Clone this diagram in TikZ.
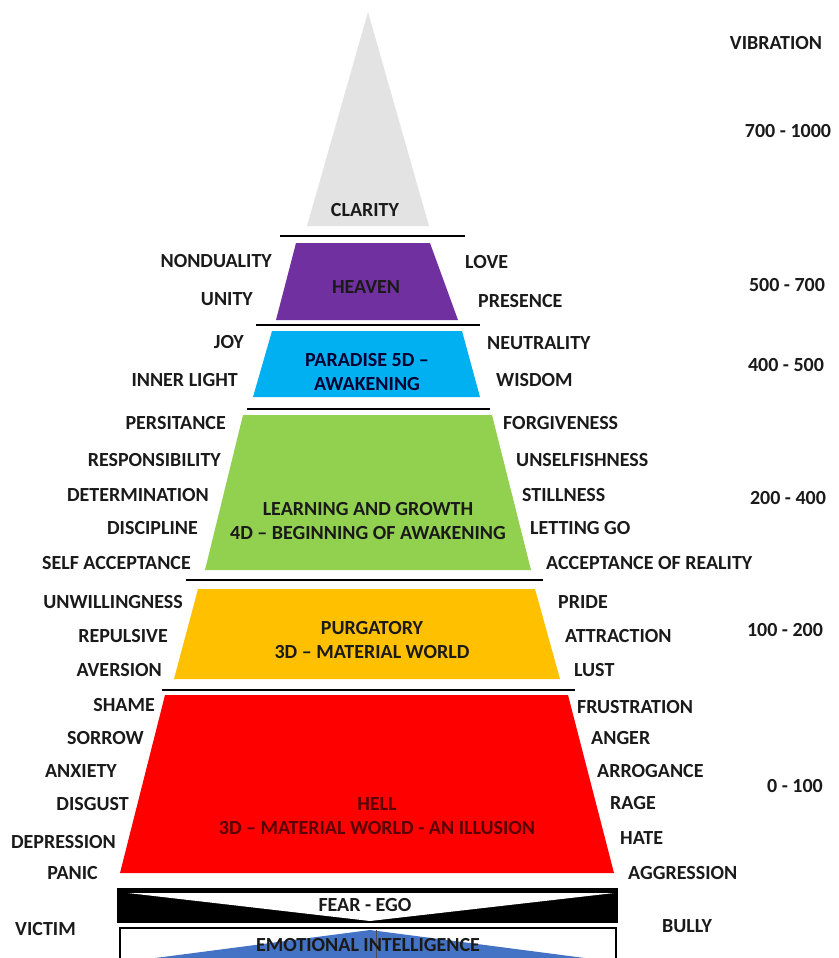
\documentclass[tikz,border=0pt]{standalone}
\usepackage{fontspec}
\setmainfont{Carlito}
\definecolor{txtcol}{HTML}{1A1A1A}
\definecolor{colclar}{HTML}{E3E3E3}
\definecolor{colheav}{HTML}{7030A0}
\definecolor{colpara}{HTML}{00B0F0}
\definecolor{colgrow}{HTML}{92D050}
\definecolor{colpurg}{HTML}{FFC000}
\definecolor{colhell}{HTML}{FF0000}
\definecolor{colemo}{HTML}{4472C4}
\begin{document}
\begin{tikzpicture}[x=1pt,y=-1pt,
  lbl/.style={inner sep=0pt,font=\fontsize{20}{20}\selectfont\bfseries,text=txtcol},
  lft/.style={lbl,anchor=east},
  rgt/.style={lbl,anchor=west},
  ctr/.style={lbl,align=center,font=\fontsize{20}{24.5}\selectfont\bfseries},
  sep/.style={line width=1.6pt,black}]
\useasboundingbox (0,0) rectangle (838,958);
% layers
\fill[colclar] (368,12) -- (429,226) -- (307,226) -- cycle;
\draw[sep] (280,236) -- (465,236);
\fill[colheav] (296,243) -- (430,243) -- (458,320) -- (276,320) -- cycle;
\draw[sep] (256,325) -- (480,325);
\fill[colpara] (272,331) -- (462,331) -- (480,397) -- (253,397) -- cycle;
\draw[sep] (247,409) -- (490,409);
\fill[colgrow] (243,415) -- (492,415) -- (531,570) -- (205,570) -- cycle;
\draw[sep] (186,580) -- (543,580);
\fill[colpurg] (198,589) -- (535,589) -- (560,679) -- (174,679) -- cycle;
\draw[sep] (162,690) -- (575,690);
\fill[colhell] (165,695) -- (568,695) -- (614,873) -- (120,873) -- cycle;
% fear - ego
\fill[black] (118,889) rectangle (617,922);
\fill[white] (128,893) -- (614,893) -- (370,921) -- cycle;
\draw[line width=1.2pt] (118,889) rectangle (617,922);
% emotional intelligence
\begin{scope}
\clip (120,928) rectangle (616,960);
\fill[colemo] (370,930) -- (600,960) -- (140,960) -- cycle;
\draw[line width=0.6pt,black!70] (376,930) -- (376,960);
\end{scope}
\draw[line width=1.2pt] (120,960) -- (120,928) -- (616,928) -- (616,960);
% centre labels
\node[ctr] (clarity) at (365,210) {CLARITY};
\node[ctr] (heaven) at (366,287) {HEAVEN};
\node[ctr,text=black!80!blue] (paradise) at (367,372) {PARADISE 5D –\\AWAKENING};
\node[ctr] (growth) at (368,521) {LEARNING AND GROWTH\\4D – BEGINNING OF AWAKENING};
\node[ctr] (purgatory) at (372,640) {PURGATORY\\3D – MATERIAL WORLD};
\node[ctr,text=black!65!red] (hellt) at (377,816) {HELL\\3D – MATERIAL WORLD - AN ILLUSION};
\node[ctr] (fear) at (365,905) {FEAR - EGO};
\node[ctr] (emotional) at (368,945) {EMOTIONAL INTELLIGENCE};
% left labels
\node[lft] (l1) at (272,261) {NONDUALITY};
\node[lft] (l2) at (253,299) {UNITY};
\node[lft] (l3) at (244,342) {JOY};
\node[lft] (l4) at (238,380) {INNER LIGHT};
\node[lft] (l5) at (226,423) {PERSITANCE};
\node[lft] (l6) at (221,460) {RESPONSIBILITY};
\node[lft] (l7) at (209,495) {DETERMINATION};
\node[lft] (l8) at (198,528) {DISCIPLINE};
\node[lft] (l9) at (191,563) {SELF ACCEPTANCE};
\node[lft] (l10) at (183,602) {UNWILLINGNESS};
\node[lft] (l11) at (168,636) {REPULSIVE};
\node[lft] (l12) at (162,670) {AVERSION};
\node[lft] (l13) at (155,705) {SHAME};
\node[lft] (l14) at (144,738) {SORROW};
\node[lft] (l15) at (117,771) {ANXIETY};
\node[lft] (l16) at (129,804) {DISGUST};
\node[lft] (l17) at (116,842) {DEPRESSION};
\node[lft] (l18) at (98,873) {PANIC};
\node[lft] (l19) at (76,929) {VICTIM};
% right labels
\node[rgt] (r1) at (465,262) {LOVE};
\node[rgt] (r2) at (478,301) {PRESENCE};
\node[rgt] (r3) at (487,343) {NEUTRALITY};
\node[rgt] (r4) at (496,380) {WISDOM};
\node[rgt] (r5) at (503,423) {FORGIVENESS};
\node[rgt] (r6) at (516,460) {UNSELFISHNESS};
\node[rgt] (r7) at (522,495) {STILLNESS};
\node[rgt] (r8) at (530,528) {LETTING GO};
\node[rgt] (r9) at (546,563) {ACCEPTANCE OF REALITY};
\node[rgt] (r10) at (558,602) {PRIDE};
\node[rgt] (r11) at (565,636) {ATTRACTION};
\node[rgt] (r12) at (574,670) {LUST};
\node[rgt] (r13) at (577,707) {FRUSTRATION};
\node[rgt] (r14) at (591,738) {ANGER};
\node[rgt] (r15) at (597,771) {ARROGANCE};
\node[rgt] (r16) at (610,803) {RAGE};
\node[rgt] (r17) at (620,838) {HATE};
\node[rgt] (r18) at (628,873) {AGGRESSION};
\node[rgt] (r19) at (662,926) {BULLY};
% vibration column
\node[lbl] (v0) at (776,43) {VIBRATION};
\node[lbl] (v1) at (788,131) {700 - 1000};
\node[lbl] (v2) at (787,285) {500 - 700};
\node[lbl] (v3) at (786,365) {400 - 500};
\node[lbl] (v4) at (788,498) {200 - 400};
\node[lbl] (v5) at (785,630) {100 - 200};
\node[lbl] (v6) at (795,786) {0 - 100};
\end{tikzpicture}
\end{document}
